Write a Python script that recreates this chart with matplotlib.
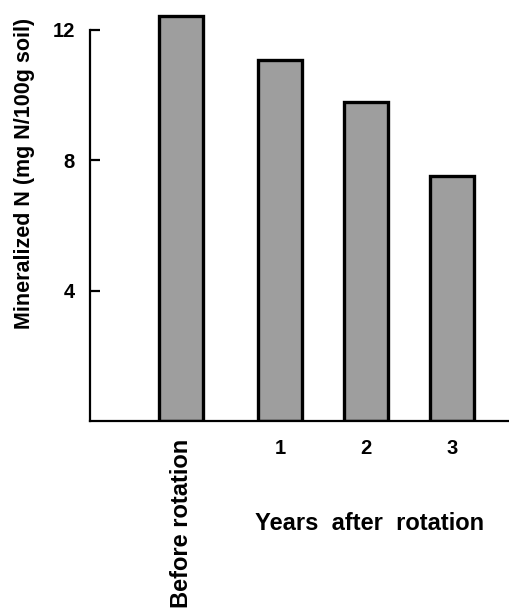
import matplotlib.pyplot as plt

# valores
categories = ["Before rotation", "1", "2", "3"]
mineral_n = [12.43, 11.07, 9.79, 7.52]
y_ticks = [4, 8, 12]

plt.rcParams['font.family'] = ['Liberation Sans', 'DejaVu Sans']
plt.rcParams['font.weight'] = 'bold'

fig = plt.figure(figsize=(5.1, 6.13), dpi=100)
ax = fig.add_axes([90 / 510, 1 - 421 / 613, 420 / 510, 421 / 613])

# posições das barras (espaçamento irregular como no original)
xpos = [-0.15, 1, 2, 3]
ax.bar(xpos, mineral_n, width=0.51, color='#9e9e9e', edgecolor='black', linewidth=2.4)

ax.set_xlim(-1.21, 3.67)
ax.set_ylim(0, 12.91)

ax.spines['top'].set_visible(False)
ax.spines['right'].set_visible(False)
ax.spines['left'].set_bounds(0, 12)
ax.spines['left'].set_linewidth(1.6)
ax.spines['bottom'].set_linewidth(1.6)

ax.set_yticks(y_ticks)
ax.set_yticklabels([str(t) for t in y_ticks])
ax.tick_params(axis='y', direction='in', length=7, width=1.6, pad=11, labelsize=14.5)

ax.set_xticks(xpos)
ax.set_xticklabels(categories)
ax.tick_params(axis='x', length=0, pad=13, labelsize=14.5)
lbl = ax.get_xticklabels()[0]
lbl.set_rotation(90)
lbl.set_fontsize(17)

fig.text(370 / 510, 1 - 523 / 613, "Years  after  rotation", fontsize=17,
         ha='center', va='center')
fig.text(25 / 510, 1 - 173 / 613, "Mineralized N (mg N/100g soil)", fontsize=15.5,
         rotation=90, ha='center', va='center')

fig.savefig("out.png", dpi=100)
